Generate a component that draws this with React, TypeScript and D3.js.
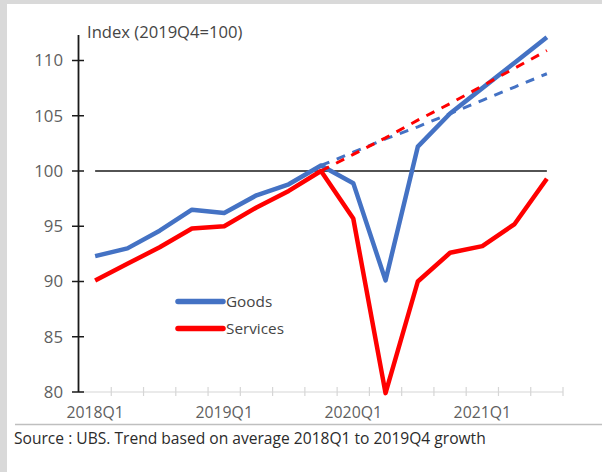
import React from "react";
import * as d3 from "d3";

const quarters = [
  "2018Q1", "2018Q2", "2018Q3", "2018Q4",
  "2019Q1", "2019Q2", "2019Q3", "2019Q4",
  "2020Q1", "2020Q2", "2020Q3", "2020Q4",
  "2021Q1", "2021Q2", "2021Q3",
];
const goods = [92.3, 93.0, 94.6, 96.5, 96.2, 97.8, 98.8, 100.5, 98.9, 90.1, 102.2, 105.2, 107.5, 109.8, 112.1];
const services = [90.1, 91.6, 93.1, 94.8, 95.0, 96.7, 98.2, 100.0, 95.7, 79.9, 90.0, 92.6, 93.2, 95.2, 99.3];
const trendQuarters = ["2019Q4", "2020Q1", "2020Q2", "2020Q3", "2020Q4", "2021Q1", "2021Q2", "2021Q3"];
const goodsTrend = [100.5, 101.7, 102.9, 104.0, 105.2, 106.4, 107.6, 108.8];
const servicesTrend = [100.0, 101.5, 103.0, 104.6, 106.1, 107.7, 109.3, 110.9];
const yTicks = [80, 85, 90, 95, 100, 105, 110];
const xLabels = ["2018Q1", "2019Q1", "2020Q1", "2021Q1"];
const seriesNames = ["Goods", "Services"];
const title = "Index (2019Q4=100)";
const source = "Source : UBS. Trend based on average 2018Q1 to 2019Q4 growth";

const BLUE = "#4472C4";
const RED = "#FF0000";
const FONT = "'Open Sans', 'Noto Sans', sans-serif";

export default function App() {
  const W = 602, H = 472;
  const x = d3.scaleBand<string>().domain(quarters).range([79, 563]).padding(0);
  const y = d3.scaleLinear().domain([80, 110]).range([392, 60.5]);
  const cx = (q: string) => (x(q) as number) + x.bandwidth() / 2;

  const line = d3.line<[string, number]>().x((d) => cx(d[0])).y((d) => y(d[1]));
  const goodsPath = line(quarters.map((q, i) => [q, goods[i]] as [string, number])) || "";
  const servicesPath = line(quarters.map((q, i) => [q, services[i]] as [string, number])) || "";
  const goodsTrendPath = line(trendQuarters.map((q, i) => [q, goodsTrend[i]] as [string, number])) || "";
  const servicesTrendPath = line(trendQuarters.map((q, i) => [q, servicesTrend[i]] as [string, number])) || "";

  const catEdges = d3.range(quarters.length + 1).map((i) => 79 + i * x.bandwidth());

  return (
    <svg
      width={W}
      height={H}
      style={{ position: "absolute", left: 0, top: 0, display: "block" }}
      fontFamily={FONT}
    >
      <rect x={0} y={0} width={W} height={H} fill="#d9d9d9" />
      <rect x={7} y={4} width={W - 7} height={H - 4} fill="#ffffff" />

      {/* x axis */}
      <line x1={79} x2={563} y1={y(80)} y2={y(80)} stroke="#d6d6d6" strokeWidth={1.2} />
      {catEdges.slice(1).map((ex, i) => (
        <line key={i} x1={ex} x2={ex} y1={y(80) - 5} y2={y(80) + 4} stroke="#d6d6d6" strokeWidth={1.2} />
      ))}
      {xLabels.map((l) => (
        <text key={l} x={cx(l)} y={418} textAnchor="middle" fontSize={15.8} fill="#5f5f5f">
          {l}
        </text>
      ))}

      {/* y axis */}
      <line x1={78.5} x2={78.5} y1={35} y2={y(80)} stroke="#1a1a1a" strokeWidth={1.8} />
      {yTicks.map((t) => (
        <g key={t}>
          <line x1={72} x2={84} y1={y(t)} y2={y(t)} stroke="#1a1a1a" strokeWidth={1.5} />
          <text x={63} y={y(t)} dy="0.35em" textAnchor="end" fontSize={16.8} fill="#5f5f5f">
            {t}
          </text>
        </g>
      ))}
      <text x={87} y={38} fontSize={16.6} fill="#454545">
        {title}
      </text>

      {/* reference 100 line */}
      <line x1={cx(quarters[0])} x2={cx(quarters[quarters.length - 1])} y1={y(100)} y2={y(100)} stroke="#1a1a1a" strokeWidth={1.5} />

      {/* series */}
      <path d={goodsPath} fill="none" stroke={BLUE} strokeWidth={4.5} strokeLinejoin="round" />
      <path d={servicesPath} fill="none" stroke={RED} strokeWidth={4.5} strokeLinejoin="round" />

      {/* trends */}
      <path d={goodsTrendPath} fill="none" stroke={BLUE} strokeWidth={3} strokeDasharray="9,8" />
      <path d={servicesTrendPath} fill="none" stroke={RED} strokeWidth={3} strokeDasharray="9,8" />

      {/* legend */}
      {seriesNames.map((n, i) => (
        <g key={n} transform={`translate(0, ${301.5 + i * 27})`}>
          <line x1={178} x2={223} y1={0} y2={0} stroke={i === 0 ? BLUE : RED} strokeWidth={5.5} strokeLinecap="round" />
          <text x={226} y={0} dy="0.35em" fontSize={15.3} fill="#454545">
            {n}
          </text>
        </g>
      ))}

      {/* separator & source */}
      <line x1={15} x2={W} y1={424.5} y2={424.5} stroke="#bfbfbf" strokeWidth={1.5} />
      <text x={14} y={444} fontSize={15.6} fill="#2b2b2b">
        {source}
      </text>
    </svg>
  );
}
